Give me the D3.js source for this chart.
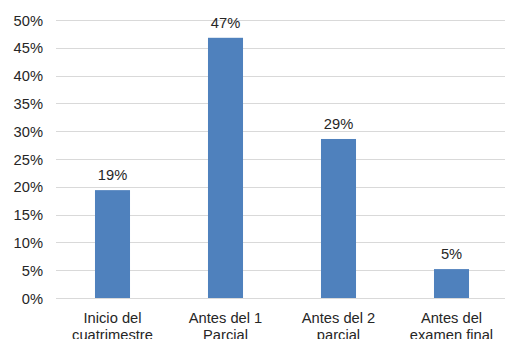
<!DOCTYPE html>
<html>
<head>
<meta charset="utf-8">
<script src="https://cdn.jsdelivr.net/npm/d3@7"></script>
<style>
  body { margin: 0; background: #fff; }
  text { font-family: "Liberation Sans", Arial, sans-serif; fill: #262626; }
</style>
</head>
<body>
<div id="root"></div>
<script>
const categories = [
  ["Inicio del", "cuatrimestre"],
  ["Antes del 1", "Parcial"],
  ["Antes del 2", "parcial"],
  ["Antes del", "examen final"],
];
const values = [0.194, 0.468, 0.286, 0.052];
const yTicks = [0, 0.05, 0.1, 0.15, 0.2, 0.25, 0.3, 0.35, 0.4, 0.45, 0.5];

const width = 505;
const height = 339;
const plotLeft = 56;
const plotTop = 20;
const plotBottom = 298;
const fontSize = "14.7px";

const x = d3
  .scaleBand()
  .domain(d3.range(categories.length))
  .range([plotLeft, plotLeft + 452])
  .paddingInner(0.69)
  .paddingOuter(0.345);
const y = d3.scaleLinear().domain([0, 0.5]).range([plotBottom, plotTop]);

const svg = d3
  .select("#root")
  .append("svg")
  .attr("width", width)
  .attr("height", height);

// gridlines
svg
  .append("g")
  .selectAll("line")
  .data(yTicks)
  .enter()
  .append("line")
  .attr("x1", plotLeft)
  .attr("x2", width)
  .attr("y1", (d) => Math.round(y(d)) + 0.5)
  .attr("y2", (d) => Math.round(y(d)) + 0.5)
  .attr("stroke", "#d9d9d9")
  .attr("stroke-width", 1);

// y tick labels
svg
  .append("g")
  .selectAll("text")
  .data(yTicks)
  .enter()
  .append("text")
  .attr("x", 43)
  .attr("y", (d) => y(d) + 5.5)
  .attr("text-anchor", "end")
  .attr("font-size", fontSize)
  .text(d3.format(".0%"));

// bars
svg
  .append("g")
  .selectAll("rect")
  .data(values)
  .enter()
  .append("rect")
  .attr("x", (d, i) => x(i))
  .attr("y", (d) => y(d))
  .attr("width", x.bandwidth())
  .attr("height", (d) => y(0) - y(d))
  .attr("fill", "#4f81bd");

// value labels
svg
  .append("g")
  .selectAll("text")
  .data(values)
  .enter()
  .append("text")
  .attr("x", (d, i) => x(i) + x.bandwidth() / 2)
  .attr("y", (d) => y(d) - 10)
  .attr("text-anchor", "middle")
  .attr("font-size", fontSize)
  .text(d3.format(".0%"));

// category labels
const cat = svg
  .append("g")
  .selectAll("text")
  .data(categories)
  .enter()
  .append("text")
  .attr("x", (d, i) => x(i) + x.bandwidth() / 2)
  .attr("y", 322.5)
  .attr("text-anchor", "middle")
  .attr("font-size", fontSize);

cat
  .selectAll("tspan")
  .data((d) => d)
  .enter()
  .append("tspan")
  .attr("x", function () {
    return this.parentNode.getAttribute("x");
  })
  .attr("dy", (d, i) => (i === 0 ? 0 : 17.5))
  .text((d) => d);
</script>
</body>
</html>
